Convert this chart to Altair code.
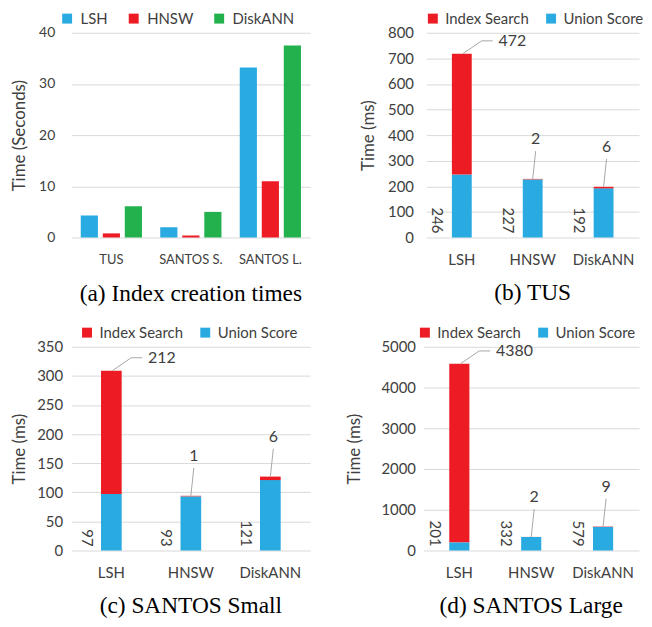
import altair as alt
import pandas as pd

FONT = "Lato"
SERIF = "Liberation Serif"
TXT = "#404040"
GRID = "#D9D9D9"
LEADER = "#A6A6A6"
BLUE = "#29ABE2"
RED = "#ED1C24"
GREEN = "#22B14C"

# ---- Panel (a): index creation times (seconds)
datasets_a = ["TUS", "SANTOS S.", "SANTOS L."]
methods_a = ["LSH", "HNSW", "DiskANN"]
lsh_a = [4.3, 2.0, 33.2]
hnsw_a = [0.8, 0.4, 11.0]
diskann_a = [6.1, 5.0, 37.5]

# ---- Panels (b)-(d): query time (ms)
methods = ["LSH", "HNSW", "DiskANN"]
series = ["Index Search", "Union Score"]
tus_union = [246, 227, 192]
tus_index = [472, 2, 6]
ss_union = [97, 93, 121]
ss_index = [212, 1, 6]
sl_union = [201, 332, 579]
sl_index = [4380, 2, 9]

rows_a = []
for m, vals in zip(methods_a, [lsh_a, hnsw_a, diskann_a]):
    for d, v in zip(datasets_a, vals):
        rows_a.append({"dataset": d, "method": m, "value": v})
df_a = pd.DataFrame(rows_a)

CAP = dict(orient="bottom", font=SERIF, fontSize=23.5, fontWeight="normal", color="black")

panel_a = alt.Chart(df_a).mark_bar().encode(
    x=alt.X("dataset:N", sort=datasets_a,
            scale=alt.Scale(paddingInner=0.23, paddingOuter=0.115),
            axis=alt.Axis(title=None, labelFontSize=13, labelPadding=16, ticks=False,
                          domain=False, labelAngle=0)),
    xOffset=alt.XOffset("method:N", sort=methods_a,
                        scale=alt.Scale(paddingInner=0.22, paddingOuter=0)),
    y=alt.Y("value:Q", scale=alt.Scale(domain=[0, 40], nice=False),
            axis=alt.Axis(values=[0, 10, 20, 30, 40], title="Time (Seconds)",
                          labelFontSize=14, titleFontSize=17, labelPadding=17,
                          titlePadding=10, ticks=False, domain=False)),
    color=alt.Color("method:N", sort=methods_a,
                    scale=alt.Scale(domain=methods_a, range=[BLUE, RED, GREEN]),
                    legend=alt.Legend(title=None, orient="none", direction="horizontal",
                                      legendX=-12, legendY=-22, symbolType="square",
                                      symbolSize=100, labelFontSize=15, columnPadding=18,
                                      labelOffset=6, padding=0)),
).properties(
    width=240, height=206,
    title=alt.TitleParams("(a) Index creation times", offset=16, **CAP),
)


def stacked_panel(union, index, ticks, caption, width, height, label_pad, title_pad,
                  legend_x, cap_offset, pad_inner):
    long_rows = []
    wide_rows = []
    for m, u, i in zip(methods, union, index):
        long_rows.append({"method": m, "series": "Union Score", "start": 0, "end": u})
        long_rows.append({"method": m, "series": "Index Search", "start": u, "end": u + i})
        wide_rows.append({"method": m, "union": u, "index": i, "total": u + i})
    dl = pd.DataFrame(long_rows)
    dw = pd.DataFrame(wide_rows)

    xscale = alt.Scale(paddingInner=pad_inner, paddingOuter=pad_inner / 2)
    xaxis = alt.Axis(title=None, labelFontSize=15, labelPadding=15, ticks=False,
                     domain=False, labelAngle=0)
    xenc = alt.X("method:N", sort=methods, scale=xscale, axis=xaxis)
    yscale = alt.Scale(domain=[ticks[0], ticks[-1]], nice=False)
    yaxis = alt.Axis(values=ticks, title="Time (ms)", labelFontSize=15,
                     titleFontSize=17, labelPadding=label_pad, format="d",
                     titlePadding=title_pad, ticks=False, domain=False)

    bars = alt.Chart(dl).mark_bar().encode(
        x=xenc,
        y=alt.Y("start:Q", scale=yscale, axis=yaxis),
        y2="end:Q",
        color=alt.Color("series:N", sort=series,
                        scale=alt.Scale(domain=series, range=[RED, BLUE]),
                        legend=alt.Legend(title=None, orient="none", direction="horizontal",
                                          legendX=legend_x, legendY=-22, symbolType="square",
                                          symbolSize=100, labelFontSize=15, columnPadding=14,
                                          labelOffset=5, padding=0)),
    )

    base = alt.Chart(dw)
    # rotated text: dx/dy act in the rotated frame (dy>0 moves left on screen)
    union_lbl = base.mark_text(angle=90, align="right", baseline="middle", dx=-4, dy=25,
                               fontSize=15, color=TXT, font=FONT).encode(
        x=xenc, y=alt.Y(datum=0, scale=yscale, axis=yaxis), text="union:Q")

    yt = alt.Y("total:Q", scale=yscale, axis=yaxis)
    lsh = base.transform_filter(alt.datum.method == "LSH")
    lead1 = lsh.mark_rule(color=LEADER, strokeWidth=1, xOffset=1, x2Offset=20,
                          y2Offset=-13).encode(
        x=xenc, x2="method:N", y=yt, y2="total:Q")
    lead2 = lsh.mark_rule(color=LEADER, strokeWidth=1, xOffset=20, yOffset=-13,
                          x2Offset=31, y2Offset=-13).encode(
        x=xenc, x2="method:N", y=yt, y2="total:Q")
    lsh_lbl = lsh.mark_text(align="left", baseline="middle", dx=37, dy=-13, fontSize=16,
                            color=TXT, font=FONT).encode(
        x=xenc, y=yt, text="index:Q")

    rest = base.transform_filter(alt.datum.method != "LSH")
    lead3 = rest.mark_rule(color=LEADER, strokeWidth=1, x2Offset=3, y2Offset=-28).encode(
        x=xenc, x2="method:N", y=yt, y2="total:Q")
    rest_lbl = rest.mark_text(align="center", baseline="middle", dx=3, dy=-40, fontSize=16,
                              color=TXT, font=FONT).encode(
        x=xenc, y=yt, text="index:Q")

    return alt.layer(bars, union_lbl, lead1, lead2, lsh_lbl, lead3, rest_lbl).properties(
        width=width, height=height,
        title=alt.TitleParams(caption, offset=cap_offset, **CAP),
    )


panel_b = stacked_panel(tus_union, tus_index, [0, 100, 200, 300, 400, 500, 600, 700, 800],
                        "(b) TUS", 214, 206, 13, 10, -1, 14, 0.72)
panel_c = stacked_panel(ss_union, ss_index, [0, 50, 100, 150, 200, 250, 300, 350],
                        "(c) SANTOS Small", 240, 205, 9, 8, 8, 14, 0.74)
panel_d = stacked_panel(sl_union, sl_index, [0, 1000, 2000, 3000, 4000, 5000],
                        "(d) SANTOS Large", 217, 205, 8, 17, -6, 14, 0.72)

top = alt.hconcat(panel_a, panel_b, spacing=49).resolve_scale(color="independent")
bottom = alt.hconcat(panel_c, panel_d, spacing=36).resolve_scale(color="independent")

chart = alt.vconcat(top, bottom, spacing=19).resolve_scale(color="independent").properties(
    padding={"left": 2, "top": 1, "right": 0, "bottom": 0}
).configure_view(stroke=None).configure_axis(
    labelFont=FONT, titleFont=FONT, labelColor=TXT, titleColor=TXT, gridColor=GRID,
    titleFontWeight="normal"
).configure_legend(labelFont=FONT, labelColor=TXT, padding=0)

chart.save("out.html", embed_options={"renderer": "svg", "actions": False})
